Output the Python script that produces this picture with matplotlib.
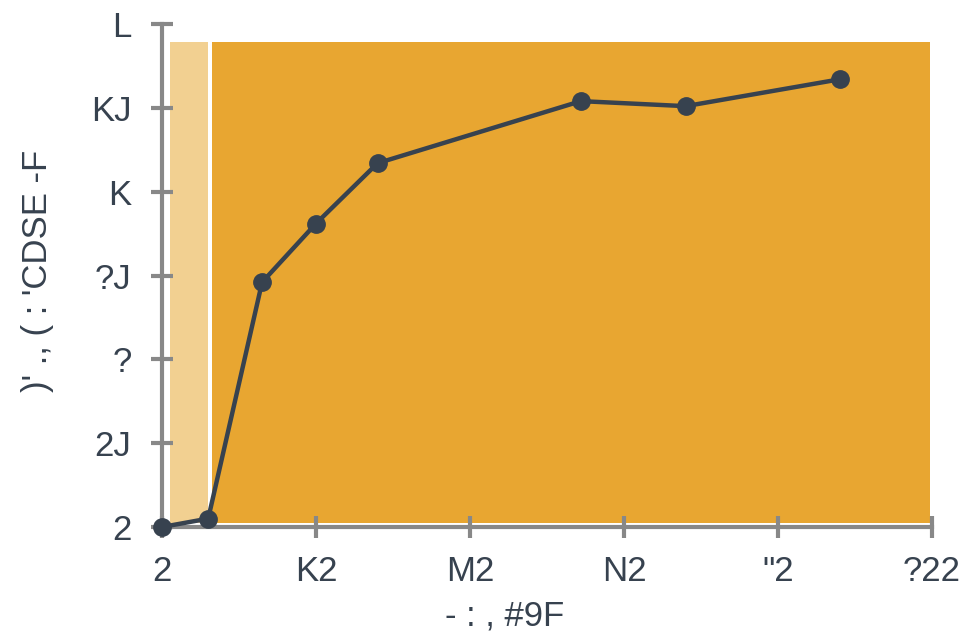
import matplotlib
matplotlib.use("Agg")
import matplotlib.pyplot as plt
from matplotlib.patches import Rectangle

# series
x_vals = [0, 6, 13, 20, 28, 54.4, 68, 88]
y_vals = [0, 0.05, 1.46, 1.81, 2.17, 2.54, 2.51, 2.67]

# background bands (x start, x end, y bottom, y top)
band_light = [1.0, 6.0, 0.025, 2.89]
band_dark = [6.5, 99.7, 0.025, 2.89]

x_ticks = [0, 20, 40, 60, 80, 100]
x_tick_labels = ["2", "K2", "M2", "N2", "\"2", "?22"]
y_ticks = [0, 0.5, 1, 1.5, 2, 2.5, 3]
y_tick_labels = ["2", "2J", "?", "?J", "K", "KJ", "L"]

x_label = "- : , #9F"
y_label = ")' ., ( : 'CDSE -F"

text_color = "#37424f"
line_color = "#37424f"
axis_color = "#888888"

plt.rcParams["font.family"] = ["Liberation Sans", "DejaVu Sans"]

fig = plt.figure(figsize=(9.69, 6.35), dpi=100)
ax = fig.add_axes([162 / 969, 108 / 635, 770 / 969, 503 / 635])

for band, color in ((band_light, "#f2d091"), (band_dark, "#e8a631")):
    ax.add_patch(Rectangle((band[0], band[2]), band[1] - band[0], band[3] - band[2],
                           facecolor=color, edgecolor="none", zorder=1))

ax.plot(x_vals, y_vals, color=line_color, linewidth=3.2, marker="o",
        markersize=12.5, zorder=5, clip_on=False)

ax.set_xlim(0, 100)
ax.set_ylim(0, 3)
ax.set_xticks(x_ticks)
ax.set_xticklabels(x_tick_labels)
ax.set_yticks(y_ticks)
ax.set_yticklabels(y_tick_labels)

for side in ("top", "right"):
    ax.spines[side].set_visible(False)
for side in ("left", "bottom"):
    ax.spines[side].set_color(axis_color)
    ax.spines[side].set_linewidth(3)

ax.tick_params(axis="both", direction="inout", length=16, width=3,
               color=axis_color, labelcolor=text_color, labelsize=25)
ax.tick_params(axis="x", pad=12)
ax.tick_params(axis="y", pad=14)

ax.set_xlabel(x_label, fontsize=25, color=text_color)
ax.xaxis.set_label_coords(0.445, -0.145)
ax.set_ylabel(y_label, fontsize=25, color=text_color)
ax.yaxis.set_label_coords(-0.14, 0.51)

fig.savefig("out.png", dpi=100)
